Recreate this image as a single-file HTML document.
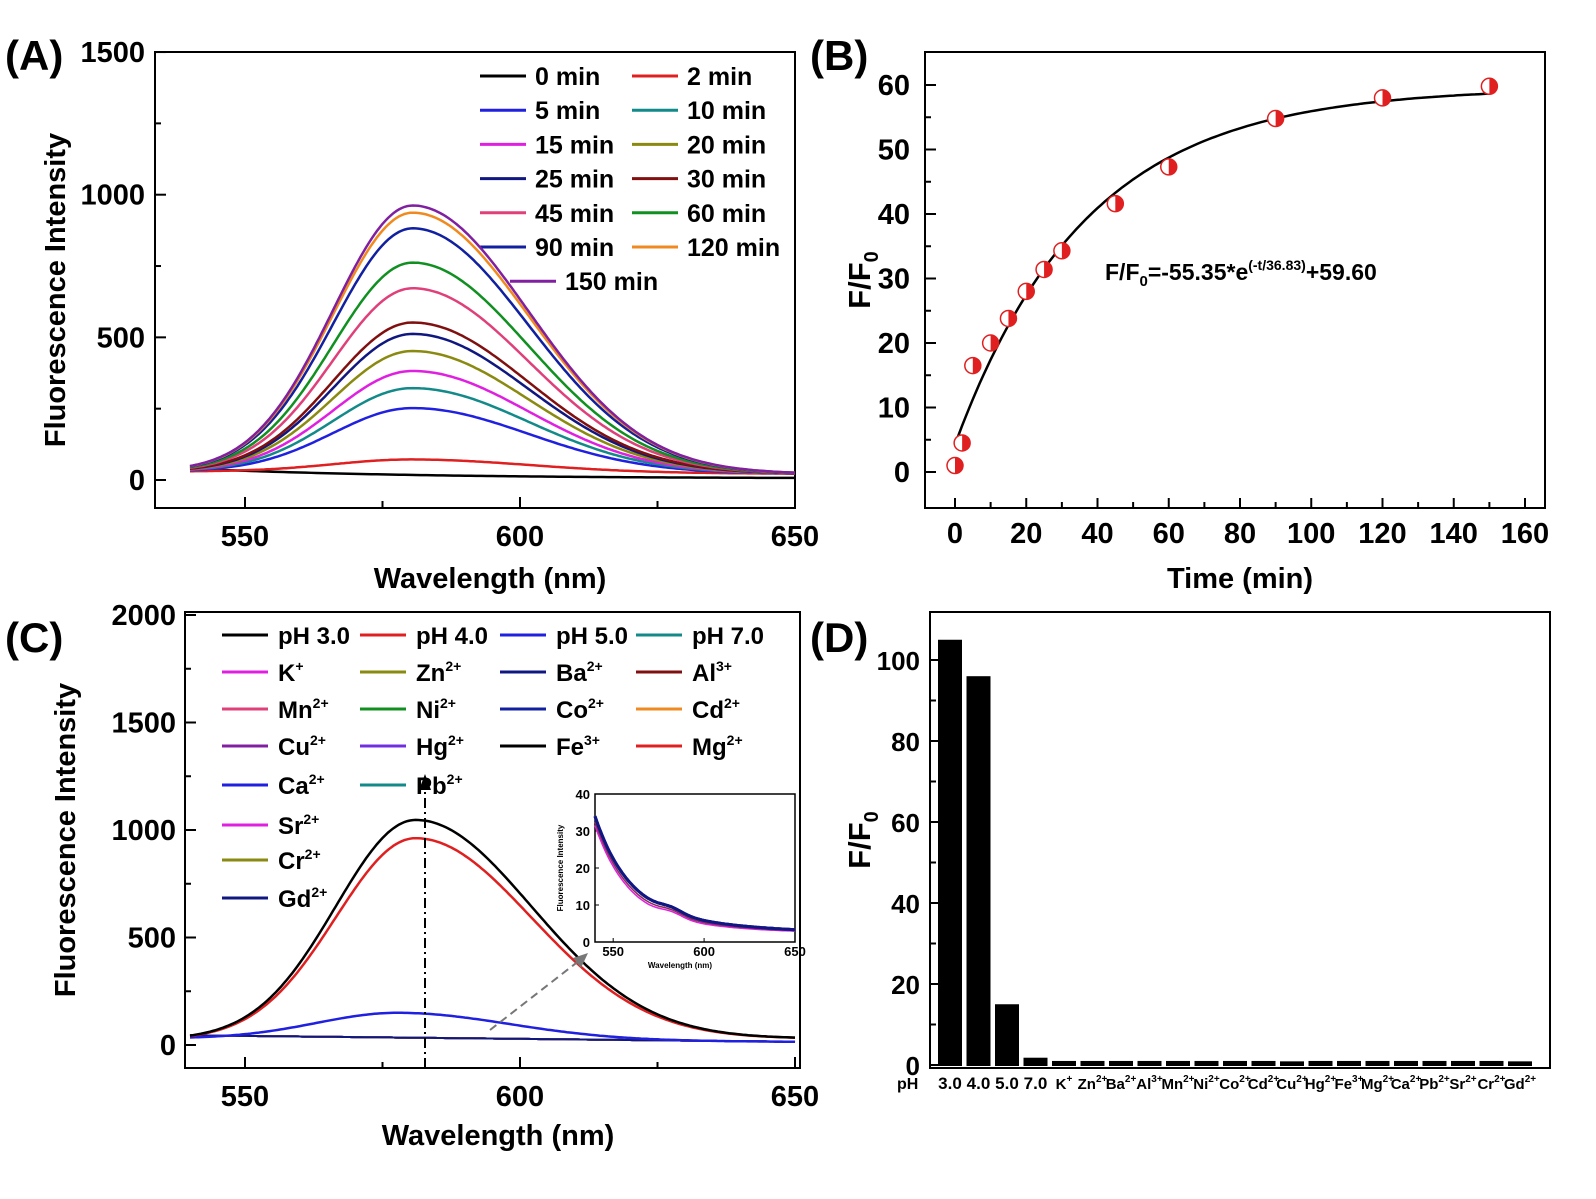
<!DOCTYPE html>
<html><head><meta charset="utf-8"><style>
body{margin:0;background:#fff}
svg{font-family:"Liberation Sans",Arial,sans-serif;font-weight:bold}
</style></head><body>
<svg id="s" width="1596" height="1194" viewBox="0 0 1596 1194" xmlns="http://www.w3.org/2000/svg">
<rect width="1596" height="1194" fill="#fff"/>
<g id="g"></g>
</svg>
<script>
const G=document.getElementById('g');let H='';
function t(x,y,s,sz,a,extra){H+=`<text x="${x}" y="${y}" font-size="${sz}" text-anchor="${a||'start'}" ${extra||''}>${s}</text>`;}
function line(x1,y1,x2,y2,c,w,extra){H+=`<line x1="${x1}" y1="${y1}" x2="${x2}" y2="${y2}" stroke="${c}" stroke-width="${w||2}" ${extra||''}/>`;}
function path(d,c,w,extra){H+=`<path d="${d}" fill="none" stroke="${c}" stroke-width="${w||2.5}" ${extra||''}/>`;}
function box(x1,y1,x2,y2,w){H+=`<rect x="${x1}" y="${y1}" width="${x2-x1}" height="${y2-y1}" fill="none" stroke="#000" stroke-width="${w||2}"/>`;}
function curve(X,Y,P,c0,sl,sr,pk,col,w){let d='';for(let l=540;l<=650;l+=0.5){const s=l<pk?sl:sr;const base=c0[0]+(c0[1]-c0[0])*(l-540)/110;const v=base+P*Math.exp(-((l-pk)**2)/(2*s*s));d+=(d?'L':'M')+X(l).toFixed(1)+','+Y(v).toFixed(1);}path(d,col,w);}
// Panel A
{const X=l=>245+(l-550)*5.5,Y=v=>480-v*0.2853;
box(155,52,795,508);
[550,575,600,625,650].forEach(v=>{line(X(v),508,X(v),v%50?501:497,'#000',2);});
[550,600,650].forEach(v=>t(X(v),546,v,29,'middle'));
for(let v=0;v<=1500;v+=250){line(155,Y(v),v%500?161:166,Y(v),'#000',2);}
[0,500,1000,1500].forEach(v=>t(145,Y(v)+10,v,29,'end'));
t(490,588,'Wavelength (nm)',29,'middle');
t(65,290,'Fluorescence Intensity',29,'middle','transform="rotate(-90 65 290)"');
t(5,70,'(A)',42,'start');
const cs=[['0 min','#000',0],['2 min','#e02020',45],['5 min','#2020e0',225],['10 min','#138a8a',295],['15 min','#e020e0',355],['20 min','#8a8a10',425],['25 min','#101880',485],['30 min','#801010',525],['45 min','#e0407a',645],['60 min','#109020',735],['90 min','#1020a0',855],['120 min','#f08a20',910],['150 min','#8020a0',935]];
cs.forEach((c,i)=>{if(i==0){let d='';for(let l=540;l<=650;l+=1){d+=(d?'L':'M')+X(l)+','+Y(35*Math.exp(-(l-540)/40)+5);}path(d,c[1],2.5);}else curve(X,Y,c[2],[30,22],14.5,21,580.5,c[1],2.5);
const col=i%2,row=Math.floor(i/2);let lx=col?632:480,ty=76+row*34.2;if(i==12)lx=510;
line(lx,ty,lx+46,ty,c[1],3);t(lx+55,ty+9,c[0],25,'start');});
}
// Panel B
{const X=v=>955+v*3.5625,Y=v=>472-v*6.45;
box(925,52,1545,508);
for(let v=0;v<=160;v+=10)line(X(v),508,X(v),v%20?502:498,'#000',2);
for(let v=0;v<=160;v+=20)t(X(v),543,v,29,'middle');
for(let v=0;v<=60;v+=5)line(925,Y(v),v%10?931:936,Y(v),'#000',2);
for(let v=0;v<=60;v+=10)t(910,Y(v)+10,v,29,'end');
t(1240,588,'Time (min)',29,'middle');
H+=`<text x="870" y="280" font-size="31" text-anchor="middle" transform="rotate(-90 870 280)">F/F<tspan font-size="20" dy="8">0</tspan></text>`;
t(810,70,'(B)',42,'start');
let d='';for(let v=0;v<=150;v+=1){d+=(d?'L':'M')+X(v).toFixed(1)+','+Y(-55.35*Math.exp(-v/36.83)+59.6).toFixed(1);}path(d,'#000',2.5);
[[0,1],[2,4.5],[5,16.5],[10,20],[15,23.8],[20,28],[25,31.4],[30,34.3],[45,41.6],[60,47.3],[90,54.8],[120,58],[150,59.8]].forEach(p=>{const x=X(p[0]),y=Y(p[1]);H+=`<circle cx="${x}" cy="${y}" r="8" fill="#fff" stroke="#e02020" stroke-width="1.5"/><path d="M${x},${y-8}A8,8 0 0,1 ${x},${y+8}Z" fill="#e02020"/>`;});
H+=`<text x="1105" y="280" font-size="23">F/F<tspan font-size="15" dy="6">0</tspan><tspan dy="-6">=-55.35*e</tspan><tspan font-size="14" dy="-10">(-t/36.83)</tspan><tspan dy="10">+59.60</tspan></text>`;
}
// Panel C
{const X=l=>245+(l-550)*5.5,Y=v=>1045-v*0.215;
box(185,612,800,1068);
[550,575,600,625,650].forEach(v=>line(X(v),1068,X(v),v%50?1062:1057,'#000',2));
[550,600,650].forEach(v=>t(X(v),1106,v,29,'middle'));
for(let v=0;v<=2000;v+=250)line(185,Y(v),v%500?191:196,Y(v),'#000',2);
[0,500,1000,1500,2000].forEach(v=>t(176,Y(v)+10,v,29,'end'));
t(498,1145,'Wavelength (nm)',29,'middle');
t(75,840,'Fluorescence Intensity',29,'middle','transform="rotate(-90 75 840)"');
t(5,652,'(C)',42,'start');
const fl=['#138a8a','#e020e0','#8a8a10','#101880','#801010','#e0407a','#109020','#1020a0','#f08a20','#8020a0','#7030e0','#000','#e02020','#2020e0','#138a8a','#e020e0','#8a8a10','#101880'];
fl.forEach(c=>{let d='';for(let l=540;l<=650;l+=1){d+=(d?'L':'M')+X(l)+','+Y(45-30*(l-540)/110).toFixed(1);}path(d,c,2);});
curve(X,Y,125,[30,15],15,20,578,'#2020e0',2.5);
curve(X,Y,935,[25,30],14.5,21,581,'#e02020',2.5);
curve(X,Y,1020,[25,30],14.5,21,581,'#000',2.5);
line(425,1068,425,780,'#000',2,'stroke-dasharray="10,4,2,4"');
H+=`<path d="M419,790L425,774L431,790Z" fill="#000"/>`;
line(490,1030,580,960,'#777',2,'stroke-dasharray="8,5"');
H+=`<path d="M588,953L573,958L581,968Z" fill="#777"/>`;
const sp=s=>`<tspan font-size="14" dy="-10">${s}</tspan>`;
const L=[['pH 3.0','#000'],['pH 4.0','#e02020'],['pH 5.0','#2020e0'],['pH 7.0','#138a8a'],['K'+sp('+'),'#e020e0'],['Zn'+sp('2+'),'#8a8a10'],['Ba'+sp('2+'),'#101880'],['Al'+sp('3+'),'#801010'],['Mn'+sp('2+'),'#e0407a'],['Ni'+sp('2+'),'#109020'],['Co'+sp('2+'),'#1020a0'],['Cd'+sp('2+'),'#f08a20'],['Cu'+sp('2+'),'#8020a0'],['Hg'+sp('2+'),'#7030e0'],['Fe'+sp('3+'),'#000'],['Mg'+sp('2+'),'#e02020'],['Ca'+sp('2+'),'#2020e0'],['Pb'+sp('2+'),'#138a8a'],['Sr'+sp('2+'),'#e020e0'],['Cr'+sp('2+'),'#8a8a10'],['Gd'+sp('2+'),'#101880']];
const cx=[222,360,500,636],ry=[635,672,709,746,785,825,860,898];
L.forEach((c,i)=>{let col,row;if(i<18){col=i%4;row=Math.floor(i/4);}else{col=0;row=i-18+5;}const lx=cx[col],y=ry[row];line(lx,y,lx+46,y,c[1],3);t(lx+56,y+9,c[0],24,'start');});
// inset
box(595,794,795,942,1.5);
const IX=l=>595+(l-540)*200/110,IY=v=>942-v*3.7;
[550,600,650].forEach(v=>{t(IX(v),940+16,v,13,'middle');line(IX(v),942,IX(v),938,'#000',1);});
[0,10,20,30,40].forEach(v=>{t(590,IY(v)+5,v,13,'end');line(595,IY(v),599,IY(v),'#000',1);});
t(680,968,'Wavelength (nm)',8,'middle');
t(563,868,'Fluorescence Intensity',8,'middle','transform="rotate(-90 563 868)"');
['#e020e0','#8a3050','#000','#7030e0','#2020e0','#101880'].forEach((c,k)=>{let d='';const o=k<2?-2.5+k:0;for(let l=540;l<=650;l+=1){let v=2+24*Math.exp(-(l-540)/18)+8*Math.exp(-(l-540)/60)+1.2*Math.exp(-((l-582)**2)/80)+o*Math.exp(-(l-540)/60);d+=(d?'L':'M')+IX(l).toFixed(1)+','+IY(v).toFixed(1);}path(d,c,k>2?3:1.5);});
}
// Panel D
{const Y=v=>1065-v*4.05;
box(930,612,1550,1068);
for(let v=0;v<=100;v+=10)line(930,Y(v),v%20?936:941,Y(v),'#000',2);
for(let v=0;v<=100;v+=20)t(920,Y(v)+10,v,26,'end');
H+=`<text x="870" y="840" font-size="31" text-anchor="middle" transform="rotate(-90 870 840)">F/F<tspan font-size="20" dy="8">0</tspan></text>`;
t(810,652,'(D)',42,'start');
const h=[105,96,15,1.8,1,1,1,1,1,1,1,1,0.9,1,1,1,1,1,1,1,0.9];
h.forEach((v,i)=>{const cx=950+i*28.5;H+=`<rect x="${cx-12}" y="${Y(v)}" width="24" height="${1066-Y(v)}" fill="#000"/>`;});
const s9=s=>`<tspan font-size="10" dy="-7">${s}</tspan>`;
const ions=[['K','+'],['Zn','2+'],['Ba','2+'],['Al','3+'],['Mn','2+'],['Ni','2+'],['Co','2+'],['Cd','2+'],['Cu','2+'],['Hg','2+'],['Fe','3+'],['Mg','2+'],['Ca','2+'],['Pb','2+'],['Sr','2+'],['Cr','2+'],['Gd','2+']];
t(897,1089,'pH',16,'start');
['3.0','4.0','5.0','7.0'].forEach((s,i)=>t(950+i*28.5,1089,s,17,'middle'));
ions.forEach((s,i)=>{H+=`<text x="${950+(i+4)*28.5}" y="1089" font-size="15" text-anchor="middle">${s[0]}${s9(s[1])}</text>`;});
}
G.innerHTML=H;
</script>
</body></html>
